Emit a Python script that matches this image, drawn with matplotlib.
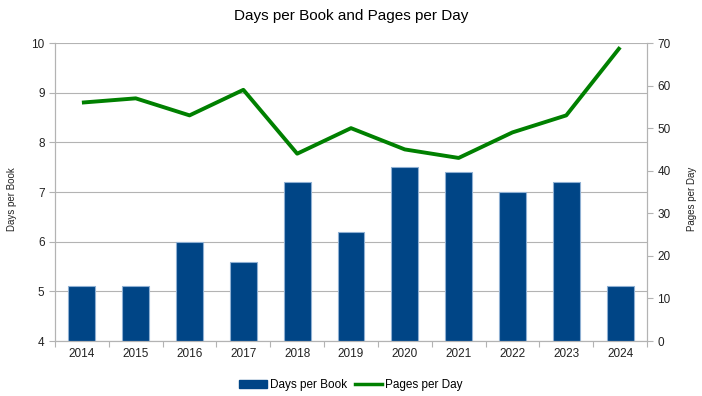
import matplotlib
matplotlib.use("Agg")
import matplotlib.pyplot as plt
from matplotlib.lines import Line2D
from matplotlib.patches import Patch

years = ["2014", "2015", "2016", "2017", "2018", "2019", "2020", "2021", "2022", "2023", "2024"]
days_per_book = [5.1, 5.1, 6.0, 5.6, 7.2, 6.2, 7.5, 7.4, 7.0, 7.2, 5.1]
pages_per_day = [56, 57, 53, 59, 44, 50, 45, 43, 49, 53, 69]

plt.rcParams['font.family'] = ['Liberation Sans', 'DejaVu Sans']

fig = plt.figure(figsize=(7.02, 3.96), dpi=100)
ax = fig.add_axes([55/702, 1 - 341/396, (647-55)/702, (341-43)/396])
ax2 = ax.twinx()

grid_c = "#b3b3b3"
x = list(range(len(years)))
ax.bar(x, [v - 4 for v in days_per_book], bottom=4, width=0.5, color="#004586",
       edgecolor="#8fb0d3", linewidth=0.8, zorder=3)
ax.set_ylim(4, 10)
ax.set_xlim(-0.5, len(years) - 0.5)
ax.set_yticks(range(4, 11))
ax.yaxis.grid(True, color=grid_c, linewidth=0.8, zorder=0)
ax.set_axisbelow(True)
ax.set_xticks(x)
ax.set_xticklabels(years)
ax.set_xticks([i - 0.5 for i in range(len(years) + 1)], minor=True)
ax.tick_params(axis='x', which='major', length=0, labelsize=8.5, colors='#222222', pad=5)
ax.tick_params(axis='x', which='minor', length=4, color=grid_c, width=0.8)
ax.tick_params(axis='y', length=4, color=grid_c, labelsize=8.5, labelcolor='#222222', width=0.8)

ax2.plot(x, pages_per_day, color="#008000", linewidth=2.8, zorder=4, solid_capstyle='butt')
ax2.set_ylim(0, 70)
ax2.set_yticks(range(0, 71, 10))
ax2.tick_params(axis='y', length=4, color=grid_c, labelsize=8.5, labelcolor='#222222', width=0.8)

for a in (ax, ax2):
    a.spines['top'].set_visible(False)
    a.spines['left'].set_color(grid_c)
    a.spines['right'].set_color(grid_c)
    a.spines['bottom'].set_color(grid_c)
    for s in a.spines.values():
        s.set_linewidth(0.8)

fig.text(12/702, 1 - 199/396, "Days per Book", rotation=90, ha='center', va='center',
         fontsize=7, color='#222222')
fig.text(692/702, 1 - 199/396, "Pages per Day", rotation=90, ha='center', va='center',
         fontsize=7, color='#222222')
fig.text(351/702, 1 - 16/396, "Days per Book and Pages per Day", ha='center', va='center', fontsize=11)

handles = [Patch(facecolor="#004586", edgecolor="#004586"),
           Line2D([0], [0], color="#008000", linewidth=2.5)]
fig.legend(handles, ["Days per Book", "Pages per Day"], loc='center', bbox_to_anchor=(351/702, 1 - 385/396),
           ncol=2, frameon=False, fontsize=8.5, handlelength=2.3, handleheight=0.6, columnspacing=0.7,
           handletextpad=0.25)

fig.savefig("out.png", dpi=100)
